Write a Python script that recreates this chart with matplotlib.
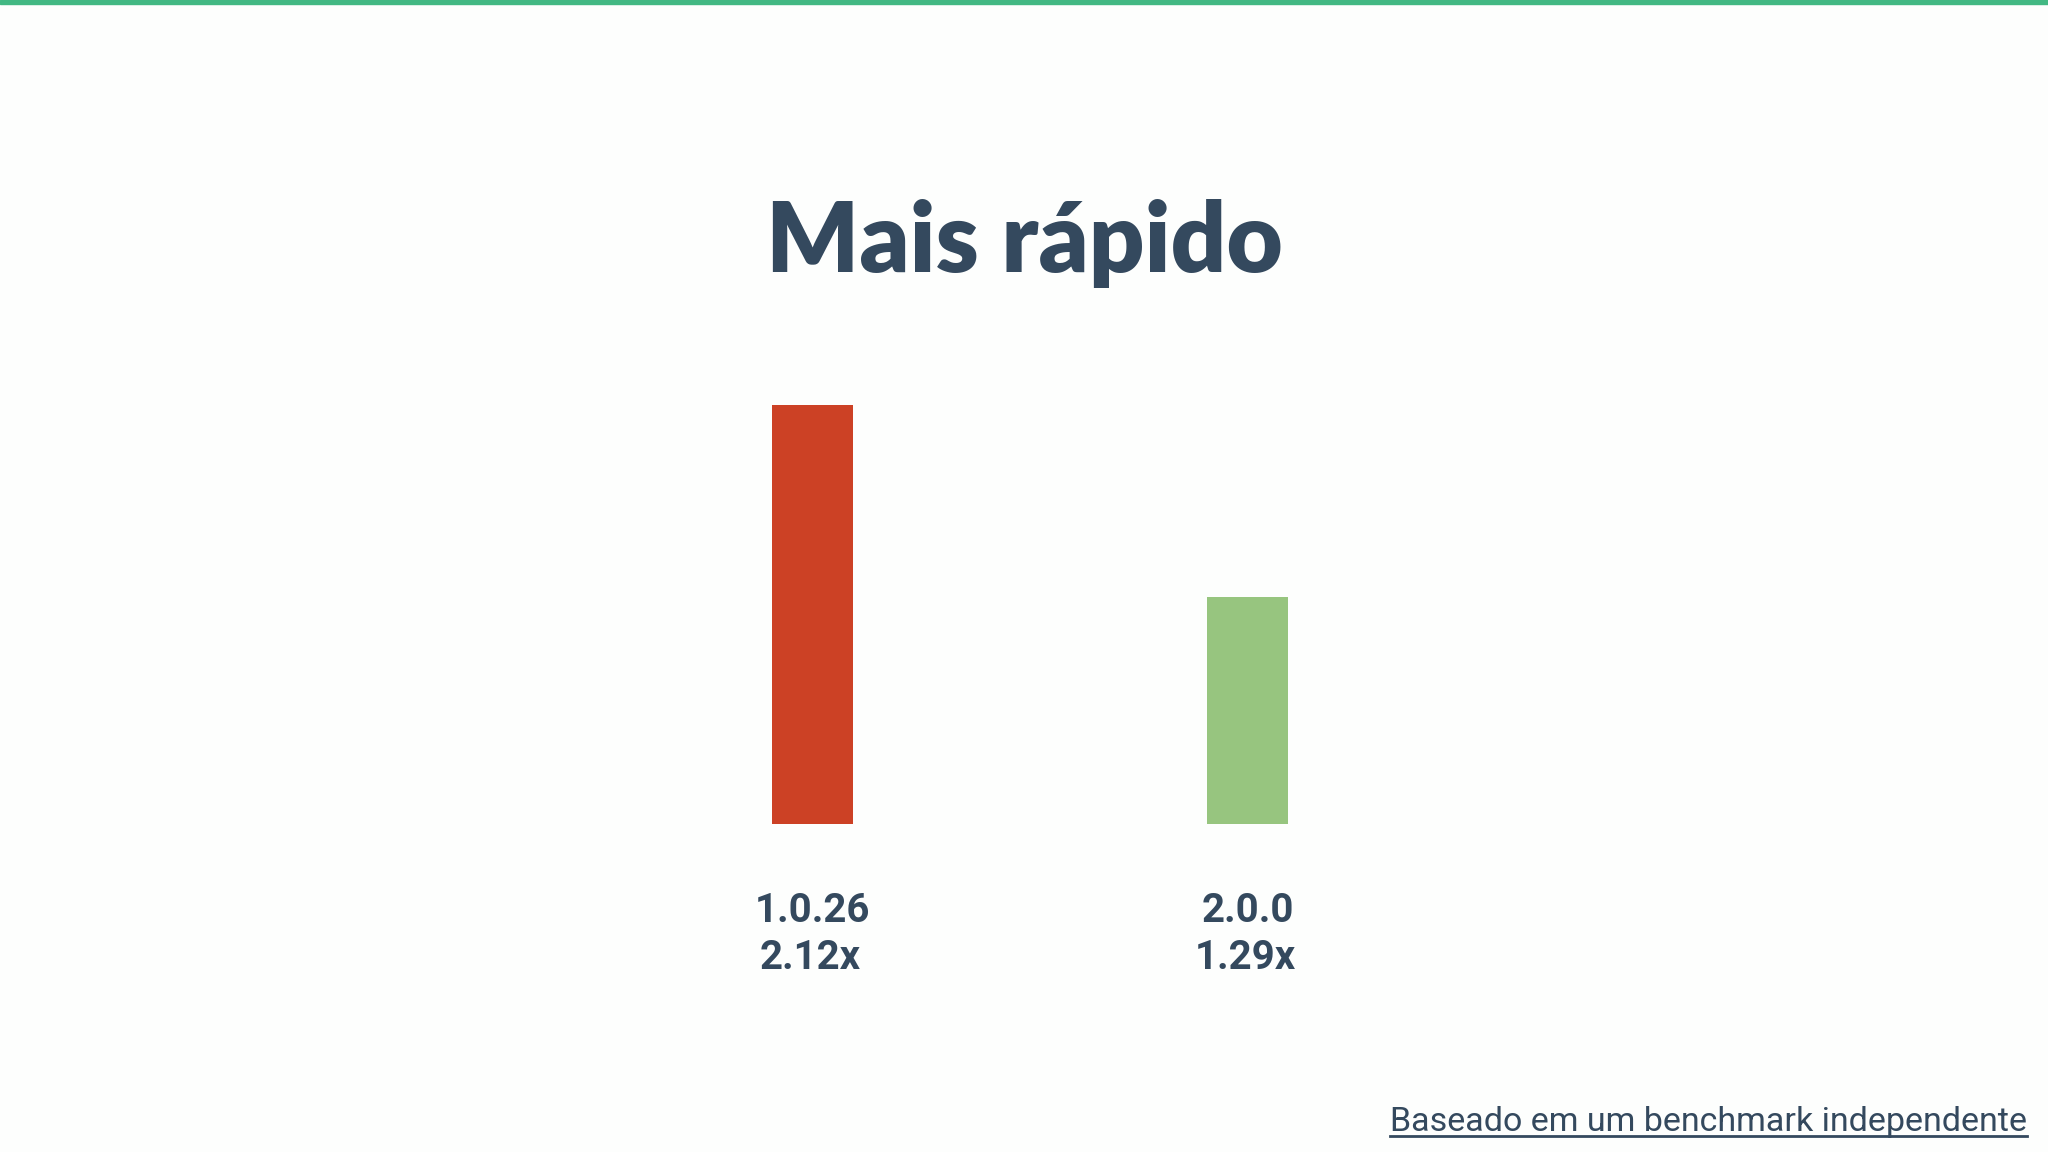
import matplotlib
matplotlib.use("Agg")
import matplotlib.pyplot as plt
from matplotlib.patches import Rectangle
from matplotlib.lines import Line2D
from matplotlib.transforms import blended_transform_factory

versions = ["1.0.26", "2.0.0"]
speed = [2.12, 1.29]
bar_colors = ["#cc4125", "#97c57f"]
title = "Mais rápido"
footnote = "Baseado em um benchmark independente"

text_color = "#34495e"

fig = plt.figure(figsize=(20.48, 11.52), dpi=100)
fig.patch.set_facecolor("#fdfefd")

# green strip across the top
fig.patches.append(Rectangle((0, 1 - 4 / 1152), 1, 4 / 1152, transform=fig.transFigure,
                             color="#42b883", zorder=5))

ax = fig.add_axes([160 / 2048, 328 / 1152, 1740 / 2048, 600 / 1152])
ax.set_facecolor("none")
x = list(range(len(versions)))
ax.bar(x, speed, width=0.186, color=bar_colors)
ax.set_xlim(-1.5, 2.5)
ax.set_ylim(0.3086, 2.9026)
ax.axis("off")

fig.text(0.5, 0.764, title, ha="center", va="baseline", fontsize=70,
         fontfamily="Lato", fontweight="heavy", color=text_color)

trans = blended_transform_factory(ax.transData, fig.transFigure)
for xi, ver, val in zip(x, versions, speed):
    ax.text(xi, 0.1997, ver, transform=trans, ha="center", va="baseline",
            fontsize=29, fontfamily="Roboto", fontweight="bold", color=text_color)
    ax.text(xi - 0.005, 0.1589, f"{val:.2f}x", transform=trans, ha="center", va="baseline",
            fontsize=29, fontfamily="Roboto", fontweight="bold", color=text_color)

note = fig.text(0.9897, 0.0182, footnote, ha="right", va="baseline", fontsize=24.5,
                fontfamily="Roboto", color=text_color)

# underline the footnote
fig.canvas.draw()
bb = note.get_window_extent().transformed(fig.transFigure.inverted())
fig.lines.append(Line2D([bb.x0, bb.x1], [0.0182 - 5 / 1152] * 2, transform=fig.transFigure,
                        color=text_color, linewidth=2))

fig.savefig("out.png", dpi=100, facecolor=fig.get_facecolor())
plt.close(fig)
